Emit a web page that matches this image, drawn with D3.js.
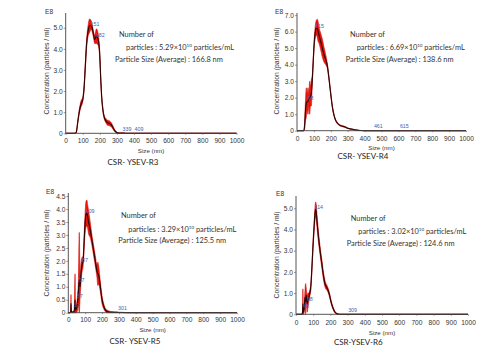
<!DOCTYPE html>
<html><head><meta charset="utf-8">
<script src="https://cdn.jsdelivr.net/npm/d3@7"></script>
<style>
html,body{margin:0;padding:0;background:#fff;}
svg{display:block;}
</style></head>
<body>
<svg id="c" width="500" height="356"></svg>
<script>
// ---------- DATA ----------
const sizeTicks = [0,100,200,300,400,500,600,700,800,900,1000];

const r3Size = [0,55,62,70,80,90,100,108,115,122,130,140,150,160,170,180,188,195,200,205,210,218,226,235,245,255,265,275,285,295,305,320,340,360,1000];
const r3Mean = [0,0,0.05,0.5,1.05,1.4,1.6,2.2,3.2,4.2,4.8,5.1,5.12,4.8,4.45,4.6,4.5,4.2,3.6,2.6,1.8,1.1,0.75,0.6,0.5,0.48,0.42,0.3,0.15,0.06,0.02,0.01,0.01,0,0];
const r3Sd   = [0,0,0.02,0.08,0.1,0.15,0.1,0.12,0.15,0.2,0.25,0.32,0.2,0.15,0.2,0.35,0.3,0.2,0.15,0.12,0.1,0.08,0.08,0.1,0.12,0.12,0.1,0.08,0.05,0.03,0.01,0.01,0.01,0,0];
const r3Ticks = [0,1,2,3,4,5];
const r3Peaks = [151,182,339,409];

const r4Size = [0,40,45,50,55,60,65,70,75,80,85,90,95,100,105,110,115,120,125,130,140,150,160,170,180,190,200,210,220,230,240,250,260,270,280,290,300,320,340,360,380,400,1000];
const r4Mean = [0,0,0.3,1.2,1.7,1.75,1.8,1.9,2.0,2.1,2.3,3.0,4.0,5.0,5.7,6.1,6.25,6.2,6.0,5.8,5.4,5.0,4.6,4.3,3.9,3.1,2.2,1.4,0.9,0.6,0.45,0.35,0.3,0.27,0.24,0.2,0.15,0.1,0.06,0.03,0.01,0,0];
const r4Sd   = [0,0,0.2,0.6,0.9,0.5,0.8,0.4,1.0,0.6,0.8,0.3,0.2,0.2,0.3,0.4,0.45,0.55,0.6,0.5,0.5,0.55,0.45,0.3,0.15,0.1,0.08,0.06,0.05,0.04,0.04,0.03,0.03,0.03,0.03,0.03,0.02,0.02,0.01,0.01,0,0,0];
const r4Ticks = [0,1,2,3,4,5,6,7];
const r4Peaks = [115,68,461,615];

const r5Size = [0,10,14,16,18,25,35,40,43,48,55,60,65,70,75,80,88,95,100,105,110,115,120,130,140,150,160,170,175,180,190,200,210,220,230,250,300,400,1000];
const r5Mean = [0,0,0.05,0.35,0.05,0.02,0.05,0.5,0.1,0.15,0.4,0.8,1.3,1.0,1.5,1.8,2.0,2.9,3.5,3.8,3.85,3.7,3.5,3.2,2.8,2.4,2.0,1.6,1.5,1.45,1.0,0.5,0.25,0.1,0.05,0.02,0.01,0,0];
const r5Sd   = [0,0,0.05,0.35,0.05,0.02,0.05,1.0,0.1,0.15,0.3,0.5,1.8,0.4,0.4,0.3,0.2,0.3,0.4,0.5,0.5,0.45,0.45,0.3,0.2,0.2,0.2,0.25,0.45,0.35,0.2,0.15,0.1,0.06,0.05,0.03,0.01,0,0];
const r5Ticks = [0,0.5,1,1.5,2,2.5,3,3.5,4,4.5];
const r5Peaks = [109,87,67,57,37,301];

const r6Size = [0,35,38,40,43,48,52,56,60,65,70,75,80,85,90,95,100,105,110,114,118,122,130,140,150,160,170,180,188,195,205,215,225,235,245,260,1000];
const r6Mean = [0,0,0.1,0.5,0.1,0.3,0.8,0.6,0.9,0.5,0.7,0.8,1.0,1.2,1.8,2.6,3.4,4.1,4.7,4.95,4.8,4.4,3.7,3.0,2.4,1.8,1.4,1.25,1.1,0.9,0.55,0.3,0.12,0.04,0.01,0,0];
const r6Sd   = [0,0,0.1,0.7,0.1,0.2,0.3,0.85,0.3,0.4,0.3,0.2,0.15,0.15,0.15,0.15,0.2,0.2,0.3,0.35,0.35,0.3,0.25,0.2,0.2,0.18,0.15,0.12,0.1,0.1,0.08,0.06,0.04,0.02,0.01,0,0];
const r6Ticks = [0,1,2,3,4,5];
const r6Peaks = [114,48,68,309];

const titles = ["CSR- YSEV-R3","CSR- YSEV-R4","CSR- YSEV-R5","CSR-YSEV-R6"];
const counts = ["5.29","6.69","3.29","3.02"];
const avgSizes = ["166.8","138.6","125.5","124.6"];

// ---------- LAYOUT ----------
const panels = [
  {size:r3Size, mean:r3Mean, sd:r3Sd, ticks:r3Ticks, peaks:r3Peaks, ymax:5.7,
   x0:65.7,x1:236.5,yb:133.3,yt:13, e8:[45,13.5], yt_x:48.5, yt_c:71, tickY:143.5, sizeY:152.5, titleX:133, titleY:165,
   ann:[[119,36.5],[126,49.5],[115,61.5]]},
  {size:r4Size, mean:r4Mean, sd:r4Sd, ticks:r4Ticks, peaks:r4Peaks, ymax:7.13,
   x0:297,x1:466,yb:130.7,yt:13, e8:[275,14], yt_x:279, yt_c:71, tickY:140.8, sizeY:149.5, titleX:363, titleY:158.5,
   ann:[[350,37],[356.7,50],[345.7,62]]},
  {size:r5Size, mean:r5Mean, sd:r5Sd, ticks:r5Ticks, peaks:r5Peaks, ymax:4.62,
   x0:68.3,x1:237,yb:312.7,yt:193, e8:[46,193.5], yt_x:49, yt_c:253, tickY:322, sizeY:331.5, titleX:135, titleY:344,
   ann:[[121,218],[128.3,231.5],[118.3,242.5]]},
  {size:r6Size, mean:r6Mean, sd:r6Sd, ticks:r6Ticks, peaks:r6Peaks, ymax:5.58,
   x0:296,x1:468,yb:314.3,yt:196, e8:[276,196], yt_x:279, yt_c:255, tickY:324.8, sizeY:334.5, titleX:358.3, titleY:345,
   ann:[[350.7,221],[358.3,233.5],[346.7,245.5]]}
];

const svg = d3.select("#c");
const tickFont = "Liberation Sans, Arial, sans-serif";
const txtFont = "Lato, 'Open Sans', sans-serif";
const fmt = d => d===0 ? "0" : d.toFixed(1);

panels.forEach((p,i)=>{
  const x = d3.scaleLinear().domain([0,1000]).range([p.x0,p.x1]);
  const y = d3.scaleLinear().domain([0,p.ymax]).range([p.yb,p.yt]);
  const g = svg.append("g");
  const pts = p.size.map((s,k)=>({s, m:p.mean[k], sd:p.sd[k]}));

  const area = d3.area().x(d=>x(d.s)).y0(d=>y(Math.max(0,d.m-d.sd))).y1(d=>y(d.m+d.sd)).curve(d3.curveMonotoneX);
  g.append("path").datum(pts).attr("d",area).attr("fill","#e8150c").attr("stroke","#d80f08").attr("stroke-width",0.6);
  const line = d3.line().x(d=>x(d.s)).y(d=>y(d.m)).curve(d3.curveMonotoneX);
  g.append("path").datum(pts).attr("d",line).attr("fill","none").attr("stroke","#2a0505").attr("stroke-width",1.1);

  const xa = g.append("g").attr("transform",`translate(0,${p.yb})`)
    .call(d3.axisBottom(x).tickValues(sizeTicks).tickSize(1.5).tickFormat(d3.format("d")));
  const ya = g.append("g").attr("transform",`translate(${p.x0},0)`)
    .call(d3.axisLeft(y).tickValues(p.ticks).tickSize(2).tickFormat(fmt));
  [xa,ya].forEach(a=>{
    a.select(".domain").attr("stroke","#444").attr("stroke-width",0.9);
    a.selectAll(".tick line").attr("stroke","#555").attr("stroke-width",0.6);
    a.selectAll(".tick text").attr("font-family",tickFont).attr("font-size","6.6px").attr("fill","#333");
  });
  ya.select(".domain").attr("d",`M0,${p.yb}V${p.yt}`);
  xa.select(".domain").attr("d",`M${p.x0},0H${p.x1}`);
  xa.selectAll(".tick text").attr("dy",null).attr("y",p.tickY-p.yb);
  ya.selectAll(".tick text").attr("x",-3);

  g.append("text").attr("x",p.e8[0]).attr("y",p.e8[1]).text("E8")
    .attr("font-family",tickFont).attr("font-size","6.6px").attr("fill","#333");
  g.append("text").attr("transform",`translate(${p.yt_x},${p.yt_c}) rotate(-90)`).attr("text-anchor","middle")
    .text("Concentration (particles / ml)").attr("font-family",tickFont).attr("font-size","6.8px").attr("fill","#333");
  g.append("text").attr("x",(p.x0+p.x1)/2).attr("y",p.sizeY).attr("text-anchor","middle")
    .text("Size (nm)").attr("font-family",tickFont).attr("font-size","6.2px").attr("fill","#333");
  g.append("text").attr("x",p.titleX).attr("y",p.titleY).attr("text-anchor","middle")
    .text(titles[i]).attr("font-family",txtFont).attr("font-size","8px").attr("fill","#222");

  const an = p.ann, af = "7.4px";
  g.append("text").attr("x",an[0][0]).attr("y",an[0][1]).text("Number of")
    .attr("font-family",txtFont).attr("font-size",af).attr("fill","#333");
  const t2 = g.append("text").attr("x",an[1][0]).attr("y",an[1][1])
    .attr("font-family",txtFont).attr("font-size",af).attr("fill","#333");
  t2.append("tspan").text(`particles : ${counts[i]}×10`);
  t2.append("tspan").attr("dy",-2.8).attr("font-size","4.5px").text("10");
  t2.append("tspan").attr("dy",2.8).text(" particles/mL");
  g.append("text").attr("x",an[2][0]).attr("y",an[2][1]).text(`Particle Size (Average) : ${avgSizes[i]} nm`)
    .attr("font-family",txtFont).attr("font-size",af).attr("fill","#333");

  const interp = v => {
    for (let k=1;k<p.size.length;k++){
      if (v<=p.size[k]){const a=p.size[k-1],b=p.size[k];const t=(v-a)/(b-a);return p.mean[k-1]+t*(p.mean[k]-p.mean[k-1]);}
    }
    return 0;
  };
  p.peaks.forEach(v=>{
    g.append("text").attr("x",x(v)-1).attr("y",Math.min(y(interp(v)),p.yb-2.5))
      .text(v).attr("font-family",tickFont).attr("font-size","5.3px").attr("fill","#3d63b0");
  });
});
</script>
</body></html>
